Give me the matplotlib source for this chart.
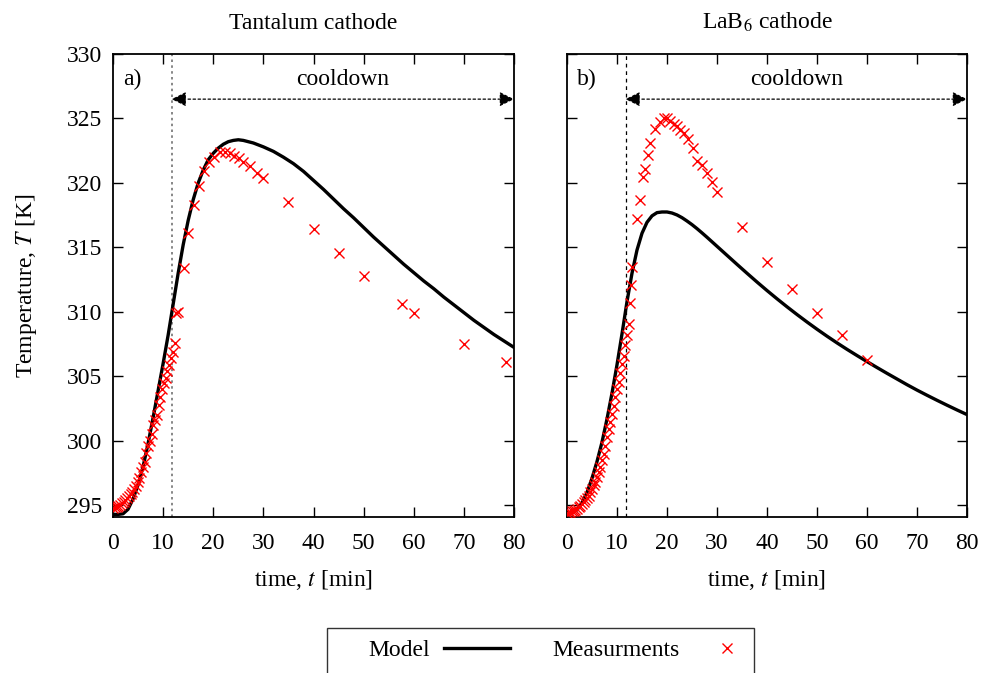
import matplotlib
matplotlib.use("Agg")
import matplotlib.pyplot as plt
from matplotlib.lines import Line2D
from matplotlib.patches import Rectangle

plt.rcParams['font.family'] = ['Liberation Serif', 'DejaVu Serif']
plt.rcParams['mathtext.fontset'] = 'stix'
plt.rcParams['font.size'] = 17

# ---- data ----
# Tantalum cathode: model
model_a_t = [0, 1, 2, 3, 4, 5, 6, 7, 8, 9, 10, 11, 12, 13, 14, 15, 16, 17, 18, 19,
             20, 21, 22, 23, 24, 25, 26, 28, 30, 32, 34, 36, 38, 40, 42, 44, 46, 48,
             50, 52, 54, 56, 58, 60, 62, 64, 66, 68, 70, 72, 74, 76, 78, 80]
model_a_T = [294.3, 294.3, 294.35, 294.7, 295.5, 296.6, 298.0, 299.8, 301.8, 303.9,
             306.0, 308.2, 310.6, 313.0, 315.2, 317.1, 318.7, 320.0, 321.0, 321.8,
             322.3, 322.7, 323.0, 323.2, 323.3, 323.35, 323.3, 323.1, 322.8, 322.45,
             322.0, 321.5, 320.9, 320.2, 319.5, 318.75, 318.0, 317.3, 316.55, 315.8,
             315.1, 314.4, 313.7, 313.05, 312.4, 311.8, 311.15, 310.55, 309.95, 309.35,
             308.8, 308.25, 307.75, 307.25]

# Tantalum cathode: measurements
meas_a_t = [0, 0.35, 0.7, 1.05, 1.4, 1.75, 2.1, 2.45, 2.8, 3.15, 3.5, 3.85, 4.2, 4.55,
            4.9, 5.25, 5.6, 5.95, 6.3, 6.65, 7.0, 7.35, 7.7, 8.05, 8.4, 8.75, 9.1, 9.45,
            9.8, 10.15, 10.5, 10.85, 11.2, 11.55, 11.9, 12.3, 12.5, 12.9, 14.2, 15.0,
            16.2, 17.1, 18.2, 19.2, 20.2, 21.4, 22.4, 23.4, 24.2, 25.1, 26.0, 27.3,
            28.7, 30.0, 35.0, 40.0, 45.0, 50.0, 57.7, 60.0, 70.0, 78.5]
meas_a_T = [294.8, 294.85, 294.9, 294.95, 295.0, 295.15, 295.3, 295.45, 295.6, 295.7,
            295.85, 296.05, 296.25, 296.5, 296.8, 297.1, 297.6, 298.0, 298.4, 299.1,
            299.6, 300.0, 300.5, 301.2, 301.6, 302.0, 302.8, 303.4, 304.0, 304.5,
            304.9, 305.4, 305.9, 306.4, 306.9, 307.6, 309.9, 310.0, 313.4, 316.1,
            318.3, 319.8, 320.9, 321.6, 322.0, 322.4, 322.4, 322.3, 322.1, 321.9,
            321.6, 321.3, 320.8, 320.4, 318.5, 316.4, 314.6, 312.8, 310.6, 309.9,
            307.5, 306.1]

# LaB6 cathode: model
model_b_t = [0, 1, 2, 3, 4, 5, 6, 7, 8, 9, 10, 11, 12, 13, 14, 15, 16, 17, 18, 19,
             20, 21, 22, 23, 24, 25, 26, 27, 28, 30, 32, 34, 36, 38, 40, 42, 44, 46,
             48, 50, 52, 54, 56, 58, 60, 62, 64, 66, 68, 70, 72, 74, 76, 78, 80]
model_b_T = [294.4, 294.45, 294.65, 295.2, 296.0, 297.1, 298.4, 299.9, 301.7, 303.7,
             305.9, 308.3, 310.8, 313.0, 314.8, 316.1, 316.95, 317.45, 317.7, 317.75,
             317.75, 317.67, 317.52, 317.31, 317.05, 316.77, 316.46, 316.13, 315.79,
             315.09, 314.39, 313.69, 313.0, 312.32, 311.66, 311.02, 310.4, 309.8,
             309.22, 308.66, 308.12, 307.6, 307.1, 306.62, 306.15, 305.69, 305.24,
             304.8, 304.36, 303.94, 303.54, 303.15, 302.77, 302.4, 302.04]

# LaB6 cathode: measurements
meas_b_t = [0, 0.33, 0.67, 1.0, 1.33, 1.67, 2.0, 2.33, 2.67, 3.0, 3.33, 3.67, 4.0, 4.33,
            4.67, 5.0, 5.33, 5.67, 6.0, 6.33, 6.67, 7.0, 7.33, 7.67, 8.0, 8.33, 8.67,
            9.0, 9.33, 9.67, 10.0, 10.33, 10.67, 11.0, 11.33, 11.67, 12.0, 12.33, 12.5,
            12.7, 12.9, 13.9, 14.5, 15.1, 15.6, 16.1, 16.5, 17.6, 18.6, 19.4, 19.9,
            20.6, 21.3, 21.9, 22.6, 23.3, 24.1, 25.1, 25.9, 26.9, 27.9, 28.9, 29.9,
            35, 40, 45, 50, 55, 60]
meas_b_T = [294.4, 294.45, 294.5, 294.55, 294.6, 294.65, 294.75, 294.85, 294.95, 295.1,
            295.25, 295.4, 295.55, 295.75, 296.0, 296.25, 296.55, 296.85, 297.2, 297.6,
            298.0, 298.5, 299.0, 299.6, 300.3, 300.9, 301.5, 302.1, 302.7, 303.4,
            304.0, 304.6, 305.3, 306.0, 306.6, 307.4, 308.2, 309.1, 310.7, 312.1,
            313.5, 317.2, 318.7, 320.5, 321.1, 322.2, 323.1, 324.2, 324.7, 325.0,
            325.0, 324.8, 324.6, 324.4, 324.1, 323.9, 323.4, 322.7, 321.7, 321.4,
            320.8, 320.1, 319.3, 316.6, 313.9, 311.8, 309.9, 308.2, 306.3]

titles = ["Tantalum cathode", "LaB$_6$ cathode"]
panel_labels = ["a)", "b)"]
t_switch = 11.7

fig = plt.figure(figsize=(9.84, 6.73), dpi=100)
ax_a = fig.add_axes([113 / 984, 156 / 673, 401 / 984, 463 / 673])
ax_b = fig.add_axes([567 / 984, 156 / 673, 400 / 984, 463 / 673])

panels = [
    (ax_a, model_a_t, model_a_T, meas_a_t, meas_a_T),
    (ax_b, model_b_t, model_b_T, meas_b_t, meas_b_T),
]

for i, (ax, mt, mT, st, sT) in enumerate(panels):
    ax.plot(mt, mT, color='black', lw=2.4, zorder=3, solid_joinstyle='round')
    ax.plot(st, sT, ls='none', marker='x', color='red', ms=7.5, mew=1.0, zorder=4)

    # switch-off line
    if i == 0:
        ax.axvline(t_switch, color='0.45', ls=(0, (1.5, 2)), lw=1.2, zorder=1)
    else:
        ax.axvline(t_switch, color='black', ls=(0, (3, 3)), lw=0.9, zorder=1)

    # cooldown arrow
    ax.annotate('', xy=(80, 326.5), xytext=(t_switch, 326.5),
                arrowprops=dict(arrowstyle='<|-|>', color='black', lw=0.9,
                                ls=(0, (2, 2)), shrinkA=0, shrinkB=0,
                                mutation_scale=22))
    ax.text((t_switch + 80) / 2, 328.0, "cooldown", ha='center', va='center')
    ax.text(2.0, 328.0, panel_labels[i], ha='left', va='center')

    ax.set_xlim(0, 80)
    ax.set_ylim(294.1, 330)
    ax.set_xticks(range(0, 81, 10))
    ax.set_yticks(range(295, 331, 5))
    ax.tick_params(direction='in', length=7, width=1, top=True, right=True, pad=8)
    ax.tick_params(axis='x', pad=11.5)
    for s in ax.spines.values():
        s.set_linewidth(1.3)
    ax.set_xlabel("time, $t$ [min]", labelpad=10)
    ax.set_title(titles[i], pad=18, fontsize=17)

ax_a.set_ylabel("Temperature, $T$ [K]", labelpad=20)
ax_b.tick_params(labelleft=False)

# key box (bottom edge runs off the figure as in the reference)
fig.add_artist(Rectangle((327 / 984, -0.05), 427 / 984, 0.05 + 45 / 673,
                         transform=fig.transFigure, fill=False,
                         edgecolor='0.2', lw=1.0))
handles = [Line2D([], [], color='black', lw=2.4),
           Line2D([], [], ls='none', marker='x', color='red', ms=7.5, mew=1.0)]
fig.legend(handles, ["Model", "Measurments"], loc='center left',
           bbox_to_anchor=(368 / 984, 1 - 650 / 673), ncol=2,
           markerfirst=False, frameon=False, handlelength=2.8,
           borderpad=0, borderaxespad=0, columnspacing=1.8,
           handletextpad=0.6)

plt.savefig("out.png", dpi=100)
